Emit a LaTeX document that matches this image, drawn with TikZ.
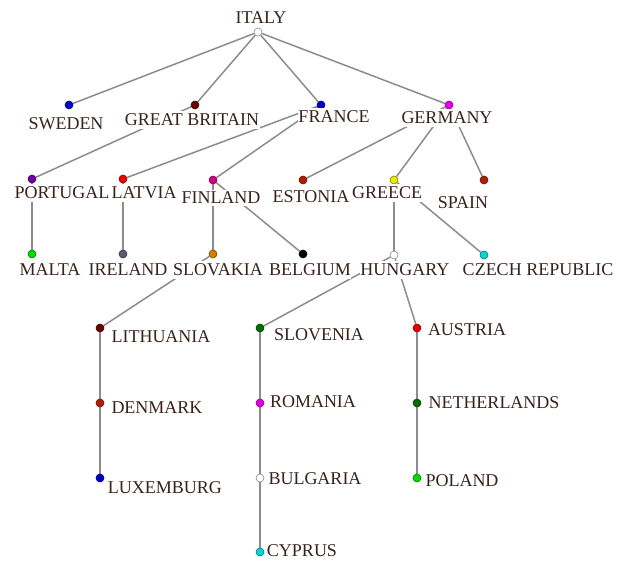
\documentclass[tikz,border=0pt]{standalone}
\usepackage{fontspec}
\setmainfont{Liberation Serif}
\usepackage{xcolor}
\usepackage{tikz}
\usetikzlibrary{backgrounds}

\definecolor{txt}{RGB}{55,35,28}
\definecolor{edgegray}{RGB}{140,140,140}
\definecolor{cblue}{RGB}{0,0,205}
\definecolor{cmaroon}{RGB}{110,0,0}
\definecolor{cmagenta}{RGB}{230,0,230}
\definecolor{cpurple}{RGB}{110,0,165}
\definecolor{cred}{RGB}{235,0,0}
\definecolor{cpink}{RGB}{215,0,130}
\definecolor{crust}{RGB}{175,30,0}
\definecolor{cyellow}{RGB}{235,235,0}
\definecolor{cgreen}{RGB}{0,220,0}
\definecolor{cslate}{RGB}{90,90,115}
\definecolor{corange}{RGB}{215,125,0}
\definecolor{ccyan}{RGB}{0,215,215}
\definecolor{cdkgreen}{RGB}{0,110,0}

\begin{document}
\begin{tikzpicture}[x=1pt,y=-1pt,
    vtx/.style={circle,inner sep=0pt,minimum size=8pt,fill=#1,draw=#1!55!black,line width=0.6pt},
    lbl/.style={fill=white,inner xsep=0.5pt,inner ysep=2.5pt,text=txt,font=\fontsize{18}{18}\selectfont},
    link/.style={draw=edgegray,line width=1.5pt}]
    \useasboundingbox (0,0) rectangle (619,561);

    % Countries
    \node[vtx=white] (it) at (258,32) {};
    \node[vtx=cblue] (se) at (69,105) {};
    \node[vtx=cmaroon] (gb) at (195,105) {};
    \node[vtx=cblue] (fr) at (321,105) {};
    \node[vtx=cmagenta] (de) at (449,105) {};
    \node[vtx=cpurple] (pt) at (32,179) {};
    \node[vtx=cred] (lv) at (123,179) {};
    \node[vtx=cpink] (fi) at (213,180) {};
    \node[vtx=crust] (ee) at (303,180) {};
    \node[vtx=cyellow] (gr) at (394,180) {};
    \node[vtx=crust] (es) at (484,180) {};
    \node[vtx=cgreen] (mt) at (32,254) {};
    \node[vtx=cslate] (ie) at (123,254) {};
    \node[vtx=corange] (sk) at (213,254) {};
    \node[vtx=black] (be) at (303,254) {};
    \node[vtx=white] (hu) at (394,255) {};
    \node[vtx=ccyan] (cz) at (484,255) {};
    \node[vtx=cmaroon] (lt) at (100,328) {};
    \node[vtx=cdkgreen] (si) at (260,328) {};
    \node[vtx=cred] (at) at (417,328) {};
    \node[vtx=crust] (dk) at (100,403) {};
    \node[vtx=cmagenta] (ro) at (260,403) {};
    \node[vtx=cdkgreen] (nl) at (417,403) {};
    \node[vtx=cblue] (lu) at (100,478) {};
    \node[vtx=white] (bg) at (260,478) {};
    \node[vtx=cgreen] (pl) at (417,478) {};
    \node[vtx=ccyan] (cy) at (260,552) {};

    % Names
    \node[lbl] (tit) at (261,18) {ITALY};
    \node[lbl] (tse) at (66,124) {SWEDEN};
    \node[lbl] (tgb) at (192,120) {GREAT BRITAIN};
    \node[lbl] (tfr) at (334,117) {FRANCE};
    \node[lbl] (tde) at (447,118) {GERMANY};
    \node[lbl] (tpt) at (62,193) {PORTUGAL};
    \node[lbl] (tlv) at (144,193) {LATVIA};
    \node[lbl] (tfi) at (221,198) {FINLAND};
    \node[lbl] (tee) at (311,197) {ESTONIA};
    \node[lbl] (tgr) at (387,193) {GREECE};
    \node[lbl] (tes) at (463,203) {SPAIN};
    \node[lbl] (tmt) at (50,270) {MALTA};
    \node[lbl] (tie) at (128,270) {IRELAND};
    \node[lbl] (tsk) at (218,270) {SLOVAKIA};
    \node[lbl] (tbe) at (310,270) {BELGIUM};
    \node[lbl] (thu) at (405,270) {HUNGARY};
    \node[lbl] (tcz) at (538,270) {CZECH REPUBLIC};
    \node[lbl] (tlt) at (161,337) {LITHUANIA};
    \node[lbl] (tsi) at (319,335) {SLOVENIA};
    \node[lbl] (tat) at (467,330) {AUSTRIA};
    \node[lbl] (tdk) at (157,408) {DENMARK};
    \node[lbl] (tro) at (313,402) {ROMANIA};
    \node[lbl] (tnl) at (494,403) {NETHERLANDS};
    \node[lbl] (tlu) at (165,488) {LUXEMBURG};
    \node[lbl] (tbg) at (315,479) {BULGARIA};
    \node[lbl] (tpl) at (462,481) {POLAND};
    \node[lbl] (tcy) at (302,551) {CYPRUS};

    % Edges
    \begin{scope}[on background layer]
    \draw[link] (it) -- (se);
    \draw[link] (it) -- (gb);
    \draw[link] (it) -- (fr);
    \draw[link] (it) -- (de);
    \draw[link] (gb) -- (pt);
    \draw[link] (fr) -- (lv);
    \draw[link] (fr) -- (fi);
    \draw[link] (de) -- (ee);
    \draw[link] (de) -- (gr);
    \draw[link] (de) -- (es);
    \draw[link] (pt) -- (mt);
    \draw[link] (lv) -- (ie);
    \draw[link] (fi) -- (sk);
    \draw[link] (fi) -- (be);
    \draw[link] (gr) -- (hu);
    \draw[link] (gr) -- (cz);
    \draw[link] (sk) -- (lt);
    \draw[link] (hu) -- (si);
    \draw[link] (hu) -- (at);
    \draw[link] (lt) -- (dk);
    \draw[link] (dk) -- (lu);
    \draw[link] (si) -- (ro);
    \draw[link] (ro) -- (bg);
    \draw[link] (bg) -- (cy);
    \draw[link] (at) -- (nl);
    \draw[link] (nl) -- (pl);
    \end{scope}
\end{tikzpicture}
\end{document}
